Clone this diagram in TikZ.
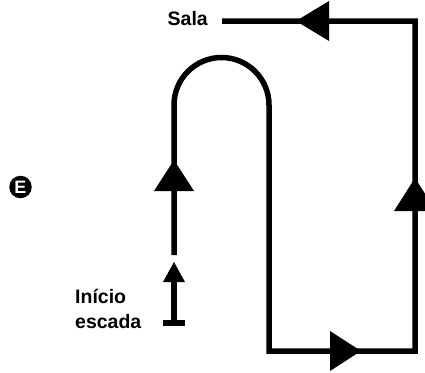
\documentclass[tikz,border=0pt]{standalone}
\usepackage{fontspec}
\setmainfont{Liberation Sans}
\begin{document}
\begin{tikzpicture}[x=1pt,y=-1pt,
  route/.style={line width=5.5pt,line join=miter,line cap=butt},
  head/.style={fill=black},
  lbl/.style={font=\fontsize{19.5}{25}\selectfont\bfseries,inner sep=0pt}]
\useasboundingbox (0,0) rectangle (425,372);
\clip (0,0) rectangle (425,372);
% coordinates
\coordinate (s0) at (174,255);
\coordinate (s1) at (174,105);
\coordinate (s3) at (269,351);
\coordinate (s4) at (415,351);
\coordinate (s5) at (415,21);
\coordinate (s6) at (222,21);
\coordinate (b0) at (174,323);
\coordinate (b1) at (174,280);
% main route
\draw[route] (s0) -- (s1) arc[start angle=180,end angle=360,radius=47.5] -- (s3) -- (s4) -- (s5) -- (s6);
% start arrow
\draw[route] (b0) -- (b1);
\fill[head] (174,262) -- (185,282) -- (163,282) -- cycle;
\fill (163,320) rectangle (185,326);
% arrowheads
\fill[head] (296,21) -- (329,1) -- (329,41) -- cycle;
\fill[head] (415,178) -- (436,211) -- (394,211) -- cycle;
\fill[head] (174,160) -- (194,191) -- (154,191) -- cycle;
\fill[head] (361,351) -- (330,331) -- (330,371) -- cycle;
% labels
\node[lbl,anchor=base east] (sala) at (208,25) {Sala};
\node[lbl,anchor=base west] (ini) at (75,303) {Início};
\node[lbl,anchor=base west] (esc) at (75,328) {escada};
\node[circle,fill=black,minimum size=22.5pt,inner sep=0pt,text=white,font=\fontsize{18}{18}\selectfont\bfseries] (e) at (20.5,187) {E};
\end{tikzpicture}
\end{document}
